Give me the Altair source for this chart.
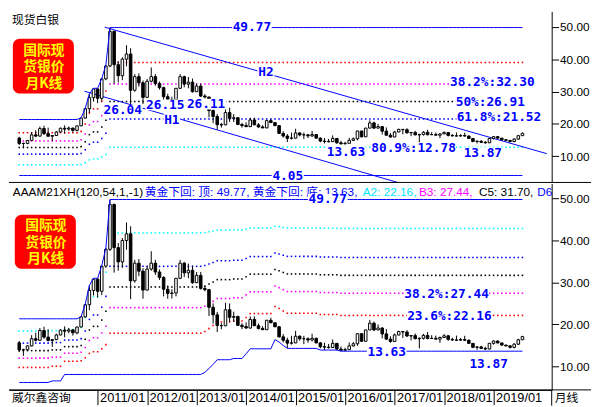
import altair as alt
import pandas as pd

# month index: 0 = 2011/01 ; first candle = 2009/06
FIRST = -19
opens = [15.62, 13.94, 13.97, 14.89, 16.61, 16.23, 18.56,
         16.99, 16.19, 16.40, 17.50, 18.65, 18.40, 18.70, 18.00, 19.40, 21.80, 24.70, 28.10,
         30.80, 27.90, 33.90, 37.90, 48.60, 38.30, 34.90, 40.00, 41.60, 30.40, 34.60, 32.70,
         28.20, 33.20, 34.60, 32.50, 31.20, 28.40, 27.40, 27.50, 31.00, 34.60, 32.30, 32.90,
         29.95, 31.70, 28.60, 28.30, 24.10, 22.30, 19.75, 19.70, 23.50, 21.70, 21.90, 19.80,
         19.50, 19.15, 21.20, 19.70, 19.05, 18.75, 21.00, 20.40, 19.45, 17.05, 16.25, 15.55,
         15.60, 17.20, 16.60, 16.60, 16.30, 16.70, 15.60, 14.70, 14.60, 14.50, 15.50, 14.15,
         13.85, 14.00, 14.90, 15.40, 17.80, 16.00, 18.70, 20.30, 18.70, 19.15, 17.75, 16.50,
         15.95, 17.50, 18.30, 18.20, 17.25, 17.35, 16.60, 16.70, 17.40, 16.65, 16.70, 16.50,
         16.90, 17.30, 16.45, 16.30, 16.25, 16.40, 16.25, 15.50, 14.55, 14.65, 14.30, 14.15,
         15.50, 16.05, 15.60, 15.10, 14.90, 14.55, 15.30, 16.35]
highs = [16.05, 14.20, 15.05, 17.45, 18.05, 19.18, 19.45,
         18.85, 16.45, 17.80, 18.85, 19.55, 19.20, 18.85, 19.45, 21.90, 24.85, 29.30, 31.00,
         31.00, 34.00, 38.20, 49.77, 48.80, 39.40, 40.60, 44.30, 43.40, 35.40, 35.60, 33.40,
         33.90, 37.45, 35.40, 33.10, 31.50, 29.30, 28.40, 31.05, 35.40, 34.90, 34.50, 34.00,
         32.50, 32.50, 29.20, 28.40, 25.00, 23.00, 20.30, 25.15, 25.00, 23.05, 22.10, 20.30,
         20.50, 21.90, 21.95, 20.25, 19.60, 21.10, 21.60, 20.50, 19.60, 17.70, 16.85, 17.30,
         18.50, 17.40, 17.30, 16.90, 17.80, 16.85, 15.80, 15.65, 15.35, 16.45, 15.55, 14.75,
         14.45, 15.70, 15.80, 17.90, 17.85, 18.75, 21.10, 20.70, 20.00, 19.35, 18.90, 17.20,
         17.85, 18.50, 18.45, 18.65, 17.50, 17.85, 16.95, 17.75, 18.20, 17.45, 17.35, 17.10,
         17.70, 17.50, 16.85, 17.35, 16.80, 17.30, 16.40, 15.55, 14.85, 14.90, 14.70, 15.60,
         16.20, 16.20, 15.60, 15.15, 15.00, 15.55, 16.60, 17.30]
lows = [13.45, 12.50, 13.70, 14.75, 15.90, 16.05, 16.60,
        15.95, 14.65, 16.25, 17.40, 16.95, 17.90, 17.35, 17.65, 19.30, 21.60, 23.40, 26.90,
        26.40, 27.00, 33.50, 37.50, 32.35, 32.80, 33.50, 37.80, 26.04, 29.95, 31.50, 26.15,
        28.10, 32.80, 31.80, 30.60, 26.70, 26.11, 26.20, 26.70, 30.80, 31.30, 31.00, 29.70,
        29.90, 28.30, 27.90, 22.00, 20.20, 18.20, 18.85, 19.60, 20.60, 20.60, 19.70, 18.85,
        19.00, 19.00, 19.60, 18.80, 18.70, 18.70, 20.35, 19.35, 16.90, 15.75, 14.40, 15.20,
        15.55, 16.15, 15.30, 15.65, 15.95, 15.55, 14.30, 13.95, 14.25, 14.40, 13.85, 13.63,
        13.65, 14.00, 14.70, 14.90, 15.85, 15.95, 18.70, 18.40, 18.60, 16.70, 16.40, 15.65,
        15.90, 17.40, 16.80, 17.00, 16.20, 16.50, 14.30, 16.40, 16.45, 16.55, 16.45, 15.60,
        16.90, 16.10, 16.10, 16.10, 16.10, 16.05, 15.35, 14.35, 13.95, 14.15, 13.87, 14.10,
        15.20, 15.50, 14.90, 14.75, 14.25, 14.30, 15.10, 16.30]
closes = [13.94, 13.97, 14.89, 16.61, 16.23, 18.56, 16.99,
          16.19, 16.40, 17.50, 18.65, 18.40, 18.70, 18.00, 19.40, 21.80, 24.70, 28.10, 30.80,
          27.90, 33.90, 37.90, 48.60, 38.30, 34.90, 40.00, 41.60, 30.40, 34.60, 32.70, 28.20,
          33.20, 34.60, 32.50, 31.20, 28.40, 27.40, 27.50, 31.00, 34.60, 32.30, 32.90, 29.95,
          31.70, 28.60, 28.30, 24.10, 22.30, 19.75, 19.70, 23.50, 21.70, 21.90, 19.80, 19.50,
          19.15, 21.20, 19.70, 19.05, 18.75, 21.00, 20.40, 19.45, 17.05, 16.25, 15.55, 15.60,
          17.20, 16.60, 16.60, 16.30, 16.70, 15.60, 14.70, 14.60, 14.50, 15.50, 14.15, 13.85,
          14.00, 14.90, 15.40, 17.80, 16.00, 18.70, 20.30, 18.70, 19.15, 17.75, 16.50, 15.95,
          17.50, 18.30, 18.20, 17.25, 17.35, 16.60, 16.70, 17.40, 16.65, 16.70, 16.50, 16.90,
          17.30, 16.45, 16.30, 16.25, 16.40, 16.25, 15.50, 14.55, 14.65, 14.30, 14.15, 15.50,
          16.05, 15.60, 15.10, 14.90, 14.55, 15.30, 16.35, 17.10]

# indicator envelopes (per month)
top_max = [21.35] * 15 + [21.90, 24.85, 29.30, 31.00, 31.00, 34.00, 38.20] + [49.77] * 101
top_min = [4.05] * 123
bot_max = [21.35] * 15 + [21.90, 24.85, 29.30, 31.00, 31.00, 34.00, 38.20] + [49.77] * 101
bot_min = ([6.18] * 8 + [6.55] * 3 + [8.09] * 34 + [8.6, 9.5, 10.5] + [11.6] * 4 + [11.9] * 3
           + [13.0] + [14.2] * 6 + [16.4, 15.8, 15.0] + [14.3] * 8 + [13.9] * 5 + [13.63] * 45)

top_ratios = [0.236, 0.382, 0.5, 0.618, 0.809]
top_colors = ["#ff0000", "#ff00ff", "#000000", "#0000ff", "#00ffff"]
bot_ratios = [0.236, 0.382, 0.5, 0.618, 0.809]
bot_colors = ["#00ffff", "#ff00ff", "#000000", "#0000ff", "#ff0000"]

# channel lines (month index, value)
h2_i = [1.7, 108.9]
h2_v = [49.9, 10.8]
h1_i = [-3.2, 73.0]
h1_v = [30.1, 1.8]

top_lab_text = ["49.77", "H2", "26.04", "26.15", "26.11", "H1", "38.2%:32.30", "50%:26.91",
                "61.8%:21.52", "80.9%:12.78", "13.63", "13.87", "4.05"]
top_lab_i = [37.4, 40.8, 6.1, 16.4, 26.3, 18.0, 95.7, 95.2, 97.3, 76.6, 60.2, 93.4, 46.1]
top_lab_v = [49.77, 36.05, 24.2, 25.9, 26.1, 21.3, 32.8, 26.8, 22.06, 12.6, 11.4, 11.1, 4.0]
bot_lab_text = ["49.77", "38.2%:27.44", "23.6%:22.16", "13.63", "13.87"]
bot_lab_i = [55.8, 84.6, 85.3, 70.1, 94.8]
bot_lab_v = [49.8, 27.33, 22.11, 13.35, 10.6]

box_lines = ["国际现", "货银价", "月K线"]
year_ticks = [0, 12, 24, 36, 48, 60, 72, 84, 96]

BLUE = "#0000ff"
W = 552
H_TOP = 174
H_BOT = 210
KX = W / 560
KYT = H_TOP / 178
KYB = H_BOT / 214
XDOM = [-20.3, 108.9]
TOP_DOM = [1.9, 54.77]
BOT_DOM = [4.41, 53.6]
LATIN = "Liberation Sans"
CJK = "Liberation Sans, Noto Sans CJK SC"
LAB_FONT_SIZE = 13
CHAR_W = 0.602 * LAB_FONT_SIZE
PX_PER_MONTH = W / (XDOM[1] - XDOM[0])

n = len(opens)
months = list(range(FIRST, FIRST + n))
df = pd.DataFrame({"i": months, "o": opens, "h": highs, "l": lows, "c": closes,
                   "tmax": top_max, "tmin": top_min, "bmax": bot_max, "bmin": bot_min})
df["up"] = df["c"] >= df["o"]


def levels(maxcol, mincol, ratios, from_top):
    rows = []
    for k, r in enumerate(ratios):
        for _, row in df.iterrows():
            mx, mn = row[maxcol], row[mincol]
            v = mx - r * (mx - mn) if from_top else mn + r * (mx - mn)
            rows.append({"i": row["i"], "v": v, "lvl": "L%d" % k})
    return pd.DataFrame(rows)


top_lvl = levels("tmax", "tmin", top_ratios, True)
bot_lvl = levels("bmax", "bmin", bot_ratios, False)
one = pd.DataFrame({"k": [0]})

yaxis = alt.Axis(orient="right", values=[10, 20, 30, 40, 50], format=".2f", tickSize=7,
                 tickColor="black", domainColor="black", labelFont=LATIN, labelFontSize=12,
                 labelColor="black", labelPadding=1, grid=False, title=None, labelFlush=False)
xaxis_bot = alt.Axis(values=year_ticks,
                     labelExpr="toString(2011 + round(datum.value / 12)) + '/01'",
                     tickSize=15, tickColor="black", domainColor="black", labelAlign="left",
                     labelBaseline="middle", labelPadding=-7, labelOffset=2, labelFont=LATIN,
                     labelFontSize=13, labelColor="black", labelFlush=False,
                     labelOverlap=False, grid=False, title=None)


def ptext(txt, x, y, color="black", size=12, font=CJK, weight="normal", align="left",
          baseline="middle"):
    return alt.Chart(one).mark_text(text=txt, color=color, fontSize=size, font=font,
                                    fontWeight=weight, align=align, baseline=baseline).encode(
        x=alt.value(x), y=alt.value(y))


def red_box(x0, x1, y0, y1, cx, first_cy, step):
    out = [alt.Chart(one).mark_rect(color="#ff0000", cornerRadius=7).encode(
        x=alt.value(x0), x2=alt.value(x1), y=alt.value(y0), y2=alt.value(y1))]
    for k, line in enumerate(box_lines):
        out.append(ptext(line, cx, first_cy + k * step, color="#ffff00", size=14,
                         font="Noto Sans CJK SC", weight="bold", align="center"))
    return out


def panel(height, ydom, maxcol, mincol, lvl_df, colors, lab_text, lab_i, lab_v, xaxis, extras_below, extras_above):
    xs = alt.Scale(domain=XDOM, nice=False, zero=False)
    ys = alt.Scale(domain=ydom, nice=False, zero=False)
    px_per_val = height / (ydom[1] - ydom[0])

    def X(f):
        return alt.X(f, type="quantitative", scale=xs, axis=xaxis)

    def Y(f):
        return alt.Y(f, type="quantitative", scale=ys, axis=yaxis)

    lvl = alt.Chart(lvl_df).mark_square(size=2.5, opacity=1).encode(
        x=X("i"), y=Y("v"),
        color=alt.Color("lvl:N", scale=alt.Scale(domain=["L0", "L1", "L2", "L3", "L4"], range=colors),
                        legend=None))
    wick = alt.Chart(df).mark_rule(color="black", strokeWidth=1).encode(
        x=X("i"), y=Y("l"), y2=alt.Y2("h"))
    body = alt.Chart(df).mark_bar(size=2.6, stroke="black", strokeWidth=1).encode(
        x=X("i"), y=Y("o"), y2=alt.Y2("c"),
        fill=alt.condition("datum.up", alt.value("white"), alt.value("black")))
    mx = alt.Chart(df).mark_line(color=BLUE, strokeWidth=1).encode(x=X("i"), y=Y(maxcol))
    mn = alt.Chart(df).mark_line(color=BLUE, strokeWidth=1).encode(x=X("i"), y=Y(mincol))
    labs = pd.DataFrame({"t": lab_text, "i": lab_i, "v": lab_v})
    half_w = (labs["t"].str.len() * CHAR_W + 2) / 2 / PX_PER_MONTH
    half_h = 5.5 / px_per_val
    labs["x0"] = labs["i"] - half_w
    labs["x1"] = labs["i"] + half_w
    labs["y0"] = labs["v"] - half_h
    labs["y1"] = labs["v"] + half_h
    bg = alt.Chart(labs).mark_rect(color="white").encode(
        x=X("x0"), x2=alt.X2("x1"), y=Y("y0"), y2=alt.Y2("y1"))
    lab = alt.Chart(labs).mark_text(font="DejaVu Sans Mono", fontWeight="bold",
                                     fontSize=LAB_FONT_SIZE, color=BLUE).encode(
        x=X("i"), y=Y("v"), text="t:N")
    layers = [lvl] + extras_below(X, Y) + [wick, body, mx, mn] + extras_above + [bg, lab]
    return alt.layer(*layers).properties(width=W, height=height)


def top_below(X, Y):
    h = pd.DataFrame({"i": h2_i + h1_i, "v": h2_v + h1_v, "name": ["H2", "H2", "H1", "H1"]})
    return [alt.Chart(h).mark_line(color=BLUE, strokeWidth=1, clip=True).encode(
        x=X("i"), y=Y("v"), detail="name:N")]


def bot_below(X, Y):
    return []


top_extras = [ptext("现货白银", 3, 9 * KYT, size=12)] + red_box(
    4 * KX, 67 * KX, 28.5 * KYT, 85.5 * KYT, 36 * KX, 41.5 * KYT, 16.5
) + [
    alt.Chart(one).mark_rule(color="black", strokeWidth=1).encode(
        x=alt.value(0), x2=alt.value(W + 40), y=alt.value(H_TOP)),
]

bot_extras = [
    ptext("AAAM21XH(120,54,1,-1)", 4 * KX, 9 * KYB, font=CJK),
    ptext("黄金下回: 顶: 49.77, 黄金下回: 底: 13.63,", 140 * KX, 9 * KYB, color=BLUE),
    ptext("A2: 22.16,", 365 * KX, 9 * KYB, color="#00e5ff"),
    ptext("B3: 27.44,", 423 * KX, 9 * KYB, color="#ff00ff"),
    ptext("C5: 31.70,", 485 * KX, 9 * KYB, color="black"),
    ptext("D6", 545 * KX, 9 * KYB, color=BLUE),
] + red_box(6 * KX, 69 * KX, 32.5 * KYB, 88.5 * KYB, 38 * KX, 44.5 * KYB, 16.5) + [
    alt.Chart(one).mark_rule(color="black", strokeWidth=1).encode(
        x=alt.value(0), x2=alt.value(W + 40), y=alt.value(H_BOT)),
    alt.Chart(one).mark_rule(color="black", strokeWidth=1).encode(
        x=alt.value(W), y=alt.value(H_BOT), y2=alt.value(H_BOT + 16)),
    ptext("威尔鑫咨询", 3, H_BOT + 8, size=12, font="Noto Sans CJK SC"),
    ptext("月线", W + 3, H_BOT + 8, size=12, font="Noto Sans CJK SC"),
]

top = panel(H_TOP, TOP_DOM, "tmax", "tmin", top_lvl, top_colors, top_lab_text, top_lab_i,
            top_lab_v, None, top_below, top_extras)
bottom = panel(H_BOT, BOT_DOM, "bmax", "bmin", bot_lvl, bot_colors, bot_lab_text, bot_lab_i,
               bot_lab_v, xaxis_bot, bot_below, bot_extras)

chart = alt.vconcat(top, bottom, spacing=0).properties(padding=0).configure_view(stroke=None)
chart.save("out.html", embed_options={"renderer": "svg", "actions": False})
